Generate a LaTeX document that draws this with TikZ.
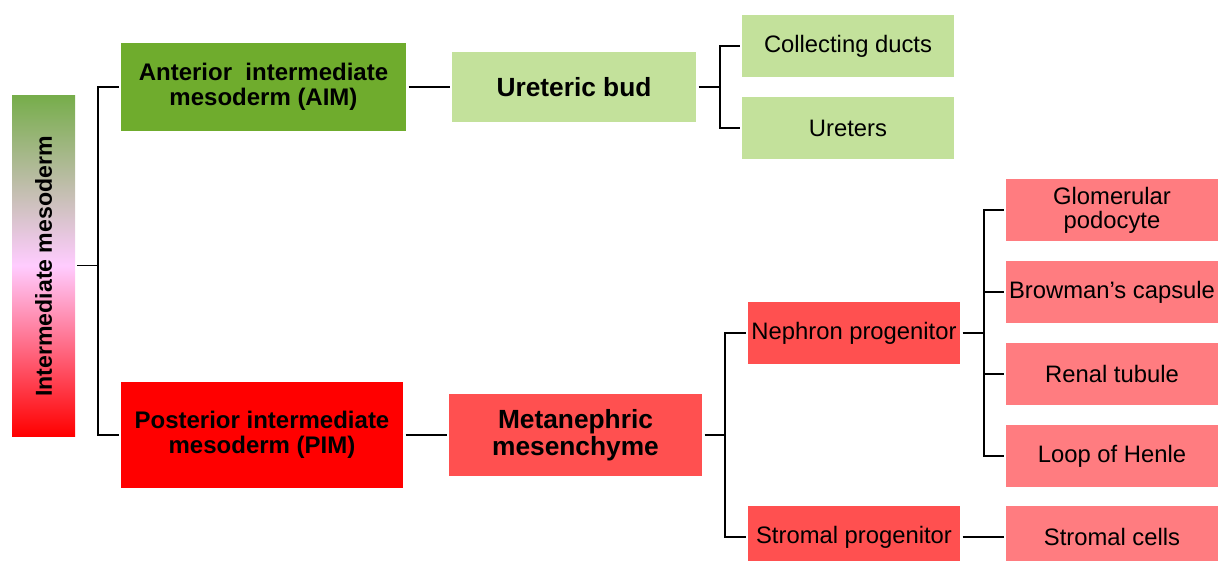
\documentclass[tikz,border=0pt]{standalone}
\usepackage{fontspec}
\setmainfont{Liberation Sans}
\definecolor{aimgreen}{HTML}{6FAC2D}
\definecolor{lightgreen}{HTML}{C3E19B}
\definecolor{pimred}{HTML}{FF0000}
\definecolor{midred}{HTML}{FF5050}
\definecolor{lightred}{HTML}{FF7C80}
\definecolor{bartop}{HTML}{76AD4A}
\definecolor{barmid}{HTML}{FFCCFF}
\begin{document}
\begin{tikzpicture}[x=1pt,y=-1pt,
  box/.style={rectangle, inner sep=0pt, outer sep=2.5pt, align=center, text=black},
  big/.style={box, font=\bfseries\fontsize{24}{25}\selectfont},
  bigger/.style={box, font=\bfseries\fontsize{26.3}{27}\selectfont},
  leaf/.style={box, fill=#1, minimum width=212, minimum height=62, font=\fontsize{23.8}{24}\selectfont},
  conn/.style={draw=black, line width=1.2pt}
]
\useasboundingbox (0,0) rectangle (1218,560);
\clip (0,0) rectangle (1218,560);

% gradient bar
\node[rectangle, inner sep=0pt, outer sep=0pt, minimum width=63, minimum height=341] (bar) at (43.5,265.5) {};
\shade[top color=bartop, bottom color=pimred, middle color=barmid] (bar.south west) rectangle (bar.north east);
\node[rotate=90, font=\bfseries\fontsize{23.1}{24}\selectfont] (bartext) at (43.5,266.5) {Intermediate mesoderm};

% level 1
\node[big, fill=aimgreen, minimum width=285, minimum height=88] (aim) at (263.5,87) {Anterior\ \ intermediate\\mesoderm (AIM)};
\node[big, fill=pimred, minimum width=282, minimum height=106] (pim) at (262,435) {Posterior intermediate\\mesoderm (PIM)};

% level 2
\node[bigger, fill=lightgreen, minimum width=244, minimum height=70] (ub) at (574,87) {Ureteric bud};
\node[bigger, fill=midred, minimum width=253, minimum height=82] (mm) at (575.5,435) {Metanephric\\mesenchyme};

% level 3
\node[leaf=lightgreen] (cd) at (848,46) {Collecting ducts};
\node[leaf=lightgreen] (ur) at (848,128) {Ureters};
\node[leaf=midred] (np) at (854,333) {Nephron progenitor};
\node[leaf=midred] (sp) at (854,537) {Stromal progenitor};

% level 4
\node[leaf=lightred] (gp) at (1112,210) {Glomerular\\podocyte};
\node[leaf=lightred] (bc) at (1112,292) {Browman’s capsule};
\node[leaf=lightred] (rt) at (1112,374) {Renal tubule};
\node[leaf=lightred] (lh) at (1112,456) {Loop of Henle};
\node[leaf=lightred] (sc) at (1112,537) {Stromal cells};

% connectors
\coordinate (j0) at (98,265.5);
\draw[conn] ([xshift=2pt]bar.east) -- (j0);
\draw[conn] (j0) |- (aim.west);
\draw[conn] (j0) |- (pim.west);

\draw[conn] (aim.east) -- (ub.west);
\draw[conn] (pim.east) -- (mm.west);

\coordinate (j1) at (720,87);
\draw[conn] (ub.east) -- (j1);
\draw[conn] (j1) |- (cd.west);
\draw[conn] (j1) |- (ur.west);

\coordinate (j2) at (725,435);
\draw[conn] (mm.east) -- (j2);
\draw[conn] (j2) |- (np.west);
\draw[conn] (j2) |- (sp.west);

\coordinate (j3) at (984,333);
\draw[conn] (np.east) -- (j3);
\draw[conn] (j3) |- (gp.west);
\draw[conn] (j3) |- (bc.west);
\draw[conn] (j3) |- (rt.west);
\draw[conn] (j3) |- (lh.west);

\draw[conn] (sp.east) -- (sc.west);
\end{tikzpicture}
\end{document}
